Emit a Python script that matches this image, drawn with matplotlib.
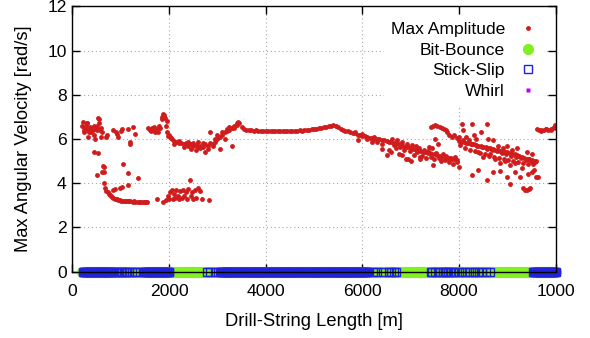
import numpy as np
import matplotlib.pyplot as plt

plt.rcParams['font.family'] = ['Liberation Sans', 'DejaVu Sans']

# Max amplitude, main trace: one value every 50 m from 200 m to 10000 m
amp_start, amp_stop, amp_step = 200, 10000, 50
amp_main = [
    6.6, 6.4, 6.7, 6.3, 6.5, 6.2, 6.6, 6.9, 6.5,                       # 200-600
    4.0, 3.65, 3.5, 3.4, 3.33, 3.28, 3.24, 3.21, 3.2, 3.18,
    3.17, 3.17, 3.16, 3.16, 3.16, 3.15, 3.16, 3.15, 3.16,               # 650-1550
    6.4, 6.5, 6.3, 6.45, 6.6, 6.9, 7.1, 6.8,                            # 1600-1950
    6.2, 6.05, 5.9, 5.85, 5.8, 5.82, 5.75, 5.8, 5.7, 5.75,
    5.68, 5.72, 5.65, 5.7, 5.62, 5.75, 5.7, 5.8, 5.75, 5.85,            # 2000-2950
    6.0, 6.1, 6.2, 6.3, 6.35, 6.4, 6.5, 6.6, 6.7, 6.72,                 # 3000-3450
    6.55, 6.45, 6.42, 6.4, 6.4, 6.38, 6.4, 6.38, 6.37, 6.38,
    6.37, 6.38, 6.36, 6.37, 6.38, 6.36, 6.37, 6.38, 6.37, 6.36,
    6.37, 6.38, 6.37, 6.38, 6.4, 6.38, 6.4, 6.41, 6.42, 6.43,           # 3500-4950
    6.44, 6.46, 6.48, 6.5, 6.52, 6.55, 6.57, 6.6, 6.62, 6.58,
    6.52, 6.47, 6.42, 6.38, 6.35, 6.3, 6.28, 6.25, 6.2, 6.18,           # 5000-5950
    6.15, 6.12, 6.1, 6.06, 6.05, 6.02, 6.0, 5.98, 5.95, 5.93,
    5.9, 5.88, 5.86, 5.83, 5.8, 5.76, 5.72, 5.68, 5.65, 5.62,           # 6000-6950
    5.6, 5.56, 5.52, 5.48, 5.45, 5.42, 5.4, 5.37, 5.35, 5.32,
    5.3, 5.26, 5.22, 5.2, 5.18, 5.15, 5.12, 5.1, 5.08, 5.05,            # 7000-7950
    5.9, 5.88, 5.85, 5.82, 5.8, 5.77, 5.75, 5.72, 5.7, 5.67,
    5.65, 5.62, 5.6, 5.57, 5.55, 5.52, 5.5, 5.47, 5.45, 5.42,           # 8000-8950
    5.4, 5.37, 5.33, 5.3, 5.27, 5.23, 5.2, 5.15, 5.1, 5.07,
    5.05, 5.02, 4.98, 6.4, 6.42, 6.4, 6.43, 6.42, 6.45, 6.5,            # 9000-9950
    6.6,                                                                # 10000
]

# scattered amplitude points (depth, value)
scatter_top = [(220, 6.75), (240, 6.3), (260, 6.5), (280, 6.6), (310, 6.72), (320, 6.4),
               (330, 6.1), (360, 6.55), (380, 6.3), (420, 6.4), (440, 6.6), (470, 6.0),
               (480, 6.5), (520, 6.4), (540, 6.95), (560, 6.7), (580, 6.4), (600, 6.1),
               (620, 6.3), (700, 6.1), (720, 6.2), (850, 6.4), (900, 6.3), (920, 6.24),
               (950, 6.1), (1000, 6.35), (1020, 6.46), (1160, 6.46), (1190, 5.85),
               (1195, 5.75), (1260, 6.54), (1300, 6.24), (1560, 6.5), (1620, 6.35),
               (1680, 6.55), (1720, 6.4), (1780, 6.3), (1820, 6.5), (1860, 7.0),
               (1880, 7.15), (1920, 6.95), (1940, 6.6), (1960, 6.3), (1980, 6.15),
               (2020, 6.1), (2060, 6.0)]
scatter_mid = [(440, 5.41), (540, 5.37), (505, 4.36), (610, 4.5), (630, 4.78), (645, 4.72),
               (650, 4.5), (850, 3.68), (880, 3.75), (985, 3.76), (1020, 3.83), (1055, 4.88),
               (1160, 4.46), (1160, 3.9), (1365, 4.22)]
scatter_low1 = [(680, 3.8), (730, 3.58), (780, 3.45), (830, 3.37), (880, 3.3), (930, 3.26),
                (980, 3.23), (1080, 3.19), (1180, 3.18), (1280, 3.17), (1380, 3.15),
                (1480, 3.16), (1530, 3.14)]
scatter_low2 = [(1750, 3.3), (1880, 3.15), (1930, 3.25), (1980, 3.4), (2000, 3.3), (2030, 3.6),
                (2060, 3.7), (2080, 3.3), (2100, 3.5), (2130, 3.35), (2150, 3.7), (2180, 3.4),
                (2200, 3.3), (2230, 3.65), (2260, 3.35), (2290, 3.7), (2320, 3.4), (2350, 3.6),
                (2380, 3.3), (2400, 3.75), (2430, 4.13), (2450, 3.4), (2480, 3.6), (2500, 3.3),
                (2530, 3.7), (2560, 3.35), (2600, 3.8), (2640, 3.65), (2680, 3.3), (2820, 3.23)]
scatter_2k = [(2100, 5.75), (2200, 5.9), (2300, 5.65), (2400, 5.85), (2450, 5.55), (2500, 5.8),
              (2550, 5.5), (2600, 5.85), (2650, 5.6), (2700, 5.8), (2750, 5.4), (2800, 5.55),
              (2850, 6.3), (2920, 5.7), (2950, 6.0), (3000, 6.2), (3050, 5.56), (3100, 6.3),
              (3150, 6.0), (3200, 6.45), (3250, 6.55), (3300, 5.7), (3350, 6.5), (3400, 6.62),
              (3430, 6.78)]
scatter_6k = [(5850, 6.3), (5920, 5.94), (6000, 6.24), (6100, 6.0), (6200, 5.86), (6250, 6.1),
              (6300, 5.85), (6400, 5.56), (6400, 5.79), (6500, 5.26), (6550, 5.5), (6600, 5.41),
              (6650, 5.71), (6700, 5.6), (6620, 6.02), (6680, 5.78), (6720, 5.97), (6780, 5.62),
              (6830, 5.88), (6870, 5.5), (6920, 5.79), (6980, 5.45), (7020, 5.72), (7060, 5.28),
              (7110, 5.66), (7140, 5.41), (7180, 5.58), (7230, 5.25), (7270, 5.52), (7320, 5.12),
              (7360, 5.47), (7410, 5.2), (7440, 5.58), (7490, 5.08), (7530, 5.38), (7580, 5.12),
              (7620, 4.98), (7660, 5.3), (7710, 5.05), (7740, 5.22), (7790, 4.95), (7830, 5.15),
              (7880, 4.88), (7920, 5.2), (7960, 4.96), (6815, 5.26), (6950, 5.11), (7190, 5.11),
              (7470, 4.81), (7990, 4.73), (6750, 5.3), (6900, 5.1), (7000, 5.0), (7200, 5.2),
              (7380, 5.65), (7500, 6.0), (7560, 5.75)]
scatter_hump = [(7430, 6.55), (7470, 6.6), (7510, 6.62), (7550, 6.6), (7600, 6.55), (7640, 6.5),
                (7680, 6.45), (7720, 6.4), (7760, 6.3), (7800, 6.2), (7850, 6.1), (7900, 6.2),
                (7950, 6.05), (7990, 6.09)]
scatter_8k = [(8056, 6.69), (8091, 6.39), (8150, 6.1), (8200, 5.95), (8263, 6.66), (8300, 6.2),
              (8350, 6.0), (8400, 5.4), (8450, 6.3), (8500, 5.2), (8574, 6.66), (8600, 6.0),
              (8650, 5.3), (8700, 5.95), (8750, 5.1), (8800, 5.7), (8850, 4.9), (8900, 5.6),
              (8950, 5.0), (9000, 5.7), (9050, 4.8), (9100, 5.5), (9150, 4.9), (9200, 5.6),
              (9300, 4.7), (9400, 5.4), (9450, 5.1), (9500, 5.3), (9550, 4.6), (9600, 4.3),
              (8263, 4.36), (8400, 4.6), (8574, 4.13), (8700, 4.5), (8850, 4.55), (8987, 4.28),
              (9056, 3.98), (9150, 4.5), (9263, 4.28), (9332, 3.76), (9360, 3.7), (9400, 3.68),
              (9435, 4.43), (9440, 3.72), (9470, 3.8), (9500, 4.5), (9642, 4.28),
              (8030, 5.72), (8080, 5.95), (8120, 5.6), (8180, 5.83), (8230, 5.52), (8270, 5.75),
              (8320, 5.45), (8380, 5.68), (8430, 5.38), (8480, 5.62), (8530, 5.3), (8580, 5.55),
              (8620, 5.25), (8680, 5.48), (8720, 5.2), (8780, 5.45), (8820, 5.15), (8880, 5.38),
              (8920, 5.1), (8980, 5.32), (9020, 5.05), (9080, 5.25), (9120, 5.0), (9180, 5.2),
              (9220, 4.95), (9280, 5.12), (9320, 4.92), (9380, 5.05), (9420, 4.88), (9480, 5.0),
              (9520, 4.85), (9580, 4.95),
              (9620, 6.43), (9700, 6.38), (9800, 6.45), (9900, 6.4), (9980, 6.62), (10000, 6.5)]

# vibration classification, flagged depths sit at y = 0
flag_step = 20
bounce_ranges = [(200, 10000)]
slip_ranges = [(230, 780), (1470, 2020), (3050, 6090), (9560, 10000)]
slip_single = [800, 830, 860, 900, 930, 960, 1000, 1030, 1070, 1100, 1140, 1180, 1230, 1290,
               1330, 2790, 2850, 2980, 6120, 6230, 6300, 6420, 6560, 6600, 6650, 6700,
               7420, 7450, 7500, 7560, 7600, 7660, 7700, 7740, 7780, 7820, 7870, 7920,
               7990, 8060, 8120, 8200, 8280, 8330, 8420, 8480, 8560, 8640, 9530]

xtick_pos = [0, 2000, 4000, 6000, 8000, 10000]
xtick_lab = ['0', '2000', '4000', '6000', '8000', '1000']
ytick_pos = [0, 2, 4, 6, 8, 10, 12]


def expand(ranges, step):
    return np.concatenate([np.arange(a, b + 1, step) for a, b in ranges])


amp_depth = np.arange(amp_start, amp_stop + 1, amp_step)
pts = scatter_top + scatter_mid + scatter_low1 + scatter_low2 + scatter_2k + scatter_6k + scatter_hump + scatter_8k
sc_depth = [p[0] for p in pts]
sc_amp = [p[1] for p in pts]

bounce_depth = expand(bounce_ranges, flag_step)
slip_depth = np.concatenate([expand(slip_ranges, flag_step), slip_single])

fig = plt.figure(figsize=(5.9, 3.38), dpi=100)
ax = fig.add_axes([0.1226, 0.1967, 0.8193, 0.7844])

red = '#d01c1c'
h_bb, = ax.plot(bounce_depth, np.zeros(len(bounce_depth)), 'o', ms=7.0, color='#80f020',
                mec='#80f020', clip_on=False, label='Bit-Bounce')
h_ss, = ax.plot(slip_depth, np.zeros(len(slip_depth)), 's', ms=5.6, mfc='none', mec='#2222d8',
                mew=1.0, clip_on=False, label='Stick-Slip')
h_ma, = ax.plot(amp_depth, amp_main, 'o', ms=3.5, color=red, mec='none', label='Max Amplitude')
ax.plot(sc_depth, sc_amp, 'o', ms=3.5, color=red, mec='none')
h_wh, = ax.plot([], [], 's', ms=3.5, color='#c000f0', mec='none', label='Whirl')

ax.set_xlim(0, 10000)
ax.set_ylim(0, 12)
ax.set_xticks(xtick_pos)
ax.set_xticklabels(xtick_lab)
ax.set_yticks(ytick_pos)
ax.tick_params(direction='in', length=6, width=1, top=True, right=True, labelsize=12.6)
ax.tick_params(axis='x', pad=9)
ax.tick_params(axis='y', pad=4)
ax.grid(True, color='#a8a8a8', linestyle=(0, (1, 2.5)), linewidth=0.8)
for s in ax.spines.values():
    s.set_linewidth(1.0)
    s.set_zorder(3)

ax.set_xlabel('Drill-String Length [m]', fontsize=13.2, labelpad=10)
ax.set_ylabel('Max Angular Velocity [rad/s]', fontsize=13.2, labelpad=11)

leg = ax.legend(handles=[h_ma, h_bb, h_ss, h_wh], loc='upper right', bbox_to_anchor=(0.975, 0.967),
                markerfirst=False, fontsize=12.6, frameon=True, fancybox=False, framealpha=1,
                edgecolor='none', borderpad=0.4, borderaxespad=0, labelspacing=0.3,
                handlelength=1.0, handletextpad=0.8)
leg.set_zorder(5)

fig.savefig('out.png', dpi=100)
